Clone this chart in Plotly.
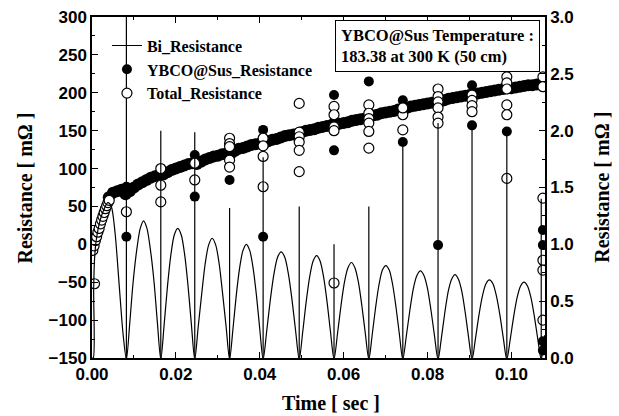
import plotly.graph_objects as go

# ---------------- data ----------------
# Bi_Resistance oscillation : time [s], resistance [mOhm]
bi_t = [0.0000, 0.0003, 0.0004, 0.0006, 0.0010, 0.0020, 0.0030, 0.0038, 0.0046, 0.0055, 0.0065, 0.0074,
        0.0082,
        0.0090, 0.0098, 0.0107, 0.0115, 0.0123, 0.0131, 0.0139, 0.0148, 0.0156,
        0.0164,
        0.0172, 0.0180, 0.0188, 0.0196, 0.02045, 0.0213, 0.0221, 0.0229, 0.0237,
        0.0245,
        0.0253, 0.0262, 0.0270, 0.0278, 0.02865, 0.0295, 0.0303, 0.0311, 0.0320,
        0.0328,
        0.0336, 0.0344, 0.0352, 0.0360, 0.0368, 0.0376, 0.0384, 0.0392, 0.0400,
        0.0408,
        0.04166, 0.04252, 0.04338, 0.04424, 0.0451, 0.04596, 0.04682, 0.04768, 0.04854,
        0.0494,
        0.05023, 0.05106, 0.05189, 0.05272, 0.05355, 0.05438, 0.05521, 0.05604, 0.05687,
        0.0577,
        0.05853, 0.05936, 0.06019, 0.06102, 0.06185, 0.06268, 0.06351, 0.06434, 0.06517,
        0.0660,
        0.06681, 0.06762, 0.06843, 0.06924, 0.07005, 0.07086, 0.07167, 0.07248, 0.07329,
        0.0741,
        0.07494, 0.07578, 0.07662, 0.07746, 0.0783, 0.07914, 0.07998, 0.08082, 0.08166,
        0.0825,
        0.08331, 0.08412, 0.08493, 0.08574, 0.08655, 0.08736, 0.08817, 0.08898, 0.08979,
        0.0906,
        0.09143, 0.09226, 0.09309, 0.09392, 0.09475, 0.09558, 0.09641, 0.09724, 0.09807,
        0.0989,
        0.09972, 0.10054, 0.10136, 0.10218, 0.1030, 0.10382, 0.10464, 0.10546, 0.10628,
        0.1071,
        0.1079]
bi_r = [-150, -150, -60, -20, 5, 33, 48, 55, 50, 15, -55, -118,
        -152,
        -104, -50, -6, 21, 31, 21, -6, -50, -104,
        -152,
        -106, -55, -14, 12, 21, 12, -14, -55, -106,
        -152,
        -110, -63, -25, -1, 8, -1, -25, -63, -110,
        -152,
        -112, -67, -31, -8, 0, -8, -31, -67, -112,
        -152,
        -114, -73, -39, -17, -10, -17, -39, -73, -114,
        -152,
        -116, -76, -43, -22, -15, -22, -43, -76, -116,
        -152,
        -118, -81, -50, -31, -24, -31, -50, -81, -118,
        -152,
        -119, -83, -53, -34, -28, -34, -53, -83, -119,
        -152,
        -121, -87, -58, -41, -35, -41, -58, -87, -121,
        -152,
        -123, -90, -62, -46, -40, -46, -62, -90, -123,
        -152,
        -124, -93, -68, -52, -47, -52, -68, -93, -124,
        -152,
        -125, -95, -70, -55, -50, -55, -70, -95, -125,
        -152,
        -120]

# Bi_Resistance spikes at the current zero crossings: time, spike top [mOhm]
spike_t = [0.0082, 0.0164, 0.0245, 0.0328, 0.0408, 0.0494, 0.0577, 0.0660, 0.0741, 0.0825,
           0.0906, 0.0989, 0.1071]
spike_top = [400, 150, 148, 48, 115, 50, 0, 50, 137, 160, 157, 149, 60]

# YBCO@Sus_Resistance : dense band sampled every 1 ms from 4 ms, plus outliers
band_t = [round(0.004 + 0.001 * i, 3) for i in range(105)]
band_r = [62, 68, 70, 72, 66, 70, 75, 79, 82, 85, 88, 90, 92, 92, 95, 98, 100, 102, 104, 106,
          107, 106, 109, 112, 114, 116, 117, 119, 120, 119, 123, 126, 127, 129, 131, 132, 133, 133,
          136, 138, 139, 141, 143, 144, 145, 146, 148, 150, 151, 152, 154, 155, 156, 157, 157,
          159, 160, 161, 163, 164, 165, 166, 167, 170, 171, 173, 174, 175, 176, 178, 179, 180,
          182, 183, 184, 185, 186, 187, 188, 188, 190, 192, 193, 194, 195, 196, 197, 198, 199,
          200, 201, 202, 203, 204, 205, 206, 206, 207, 208, 209, 210, 210, 211, 212, 213]
ybco_out_t = [0.0082, 0.0082, 0.0245, 0.0245, 0.0328, 0.0408, 0.0408, 0.0577, 0.0577, 0.0577,
              0.0660, 0.0741, 0.0741, 0.0825, 0.0906, 0.0906, 0.0989,
              0.1075, 0.1075, 0.1075, 0.1075]
ybco_out_r = [10, 76, 118, 63, 85, 151, 10, 197, 162, 124,
              215, 190, 135, -1, 210, 157, 149,
              19, -1, -128, -140]

# Total_Resistance : open circles
total_t = [0.0002, 0.0005, 0.0008, 0.0011, 0.0014, 0.0017, 0.0020, 0.0023, 0.0026, 0.0029,
           0.0032, 0.0035, 0.0038, 0.0041, 0.0006,
           0.0082,
           0.0164, 0.0164, 0.0164,
           0.0245, 0.0245,
           0.0328, 0.0328, 0.0328, 0.0328, 0.0328,
           0.0408, 0.0408, 0.0408, 0.0408,
           0.0494, 0.0494, 0.0494, 0.0494, 0.0494, 0.0494,
           0.0577, 0.0577, 0.0577, 0.0577, 0.0577,
           0.0660, 0.0660, 0.0660, 0.0660, 0.0660, 0.0660,
           0.0741, 0.0741, 0.0741,
           0.0825, 0.0825, 0.0825, 0.0825, 0.0825, 0.0825,
           0.0906, 0.0906, 0.0906, 0.0906,
           0.0989, 0.0989, 0.0989, 0.0989, 0.0989, 0.0989,
           0.1075, 0.1075, 0.1075, 0.1075, 0.1075, 0.1075]
total_r = [-8, -2, 5, 10, 16, 21, 27, 32, 37, 42,
           47, 51, 55, 58, -52,
           43,
           100, 78, 56,
           107, 85,
           140, 133, 129, 111, 102,
           140, 130, 116, 76,
           186, 148, 142, 135, 124, 96,
           182, 171, 155, 150, -51,
           184, 173, 166, 160, 149, 127,
           171, 151, 180,
           205, 195, 188, 180, 168, 160,
           197, 190, 183, 175,
           221, 213, 205, 184, 171, 87,
           221, 208, 61, -21, -34, -100]

x_ticks = [0.00, 0.02, 0.04, 0.06, 0.08, 0.10]
y_ticks = [-150, -100, -50, 0, 50, 100, 150, 200, 250, 300]
y2_ticks = [0.0, 0.5, 1.0, 1.5, 2.0, 2.5, 3.0]

x_title = "Time [ sec ]"
y_title = "Resistance [ mΩ ]"
note_text = "YBCO@Sus Temperature :<br>183.38 at 300 K (50 cm)"

# ---------------- figure ----------------
SERIF = "Liberation Serif"
SANS = "Liberation Sans"
title_font = dict(family=SERIF, size=20, color="black", weight="bold")

spike_x, spike_y = [], []
for t, top in zip(spike_t, spike_top):
    spike_x += [t, t, None]
    spike_y += [-150, top, None]

fig = go.Figure()
fig.add_trace(go.Scatter(
    x=band_t, y=band_r, mode="markers", legendgroup="ybco", showlegend=False,
    marker=dict(size=12, color="black", line=dict(width=0)), hoverinfo="skip"))
fig.add_trace(go.Scatter(
    x=ybco_out_t, y=ybco_out_r, mode="markers", legendgroup="ybco",
    name="YBCO@Sus_Resistance", legendrank=2,
    marker=dict(size=10, color="black", line=dict(width=0))))
fig.add_trace(go.Scatter(
    x=total_t, y=total_r, mode="markers", name="Total_Resistance", legendrank=3,
    marker=dict(size=10, color="white", line=dict(color="black", width=1.2))))
fig.add_trace(go.Scatter(
    x=bi_t, y=bi_r, mode="lines", name="Bi_Resistance", legendrank=1, legendgroup="bi",
    line=dict(color="black", width=1.2, shape="spline", smoothing=0.8)))
fig.add_trace(go.Scatter(
    x=spike_x, y=spike_y, mode="lines", legendgroup="bi", showlegend=False,
    line=dict(color="black", width=1.2), hoverinfo="skip"))
fig.add_trace(go.Scatter(x=[0], y=[0], yaxis="y2", mode="markers",
                         marker=dict(opacity=0), showlegend=False, hoverinfo="skip"))

axis_common = dict(showline=True, linecolor="black", linewidth=1.5, ticks="inside",
                   ticklen=6, tickwidth=1.2, tickcolor="black", showgrid=False, zeroline=False,
                   tickfont=dict(family=SANS, size=17, color="black", weight="bold"))

fig.update_layout(
    width=619, height=416,
    margin=dict(l=92, r=74, t=17, b=58, autoexpand=False),
    paper_bgcolor="white", plot_bgcolor="white",
    showlegend=True,
    xaxis=dict(range=[0, 0.108], tickvals=x_ticks, tickformat=".2f", mirror="ticks",
               minor=dict(dtick=0.01, tick0=0, ticks="inside", ticklen=3, tickcolor="black"),
               **axis_common),
    yaxis=dict(range=[-150, 300], tickvals=y_ticks,
               minor=dict(dtick=25, tick0=0, ticks="inside", ticklen=3, tickcolor="black"),
               **axis_common),
    yaxis2=dict(range=[0, 3], tickvals=y2_ticks, tickformat=".1f", overlaying="y", side="right",
                minor=dict(dtick=0.25, tick0=0, ticks="inside", ticklen=3, tickcolor="black"),
                **axis_common),
    legend=dict(x=0.033, y=0.966, xanchor="left", yanchor="top", bgcolor="rgba(0,0,0,0)",
                font=dict(family=SERIF, size=16, color="black", weight="bold"),
                tracegroupgap=0),
    annotations=[
        dict(xref="paper", yref="paper", x=0.762, y=0.914, xanchor="center", yanchor="middle",
             text=note_text, align="left", showarrow=False,
             font=dict(family=SERIF, size=16.5, color="black", weight="bold"),
             bordercolor="black", borderwidth=1, borderpad=5, bgcolor="white"),
        dict(xref="paper", yref="paper", x=0.528, y=-0.132, xanchor="center", yanchor="middle",
             text=x_title, showarrow=False, font=title_font),
        dict(xref="paper", yref="paper", x=-0.148, y=0.5, xanchor="center", yanchor="middle",
             text=y_title, textangle=-90, showarrow=False, font=title_font),
        dict(xref="paper", yref="paper", x=1.124, y=0.5, xanchor="center", yanchor="middle",
             text=y_title, textangle=-90, showarrow=False, font=title_font),
    ],
)

fig.write_html("out.html", config={"displayModeBar": False},
               post_script="document.body.style.margin='0';document.body.style.overflow='hidden';")
